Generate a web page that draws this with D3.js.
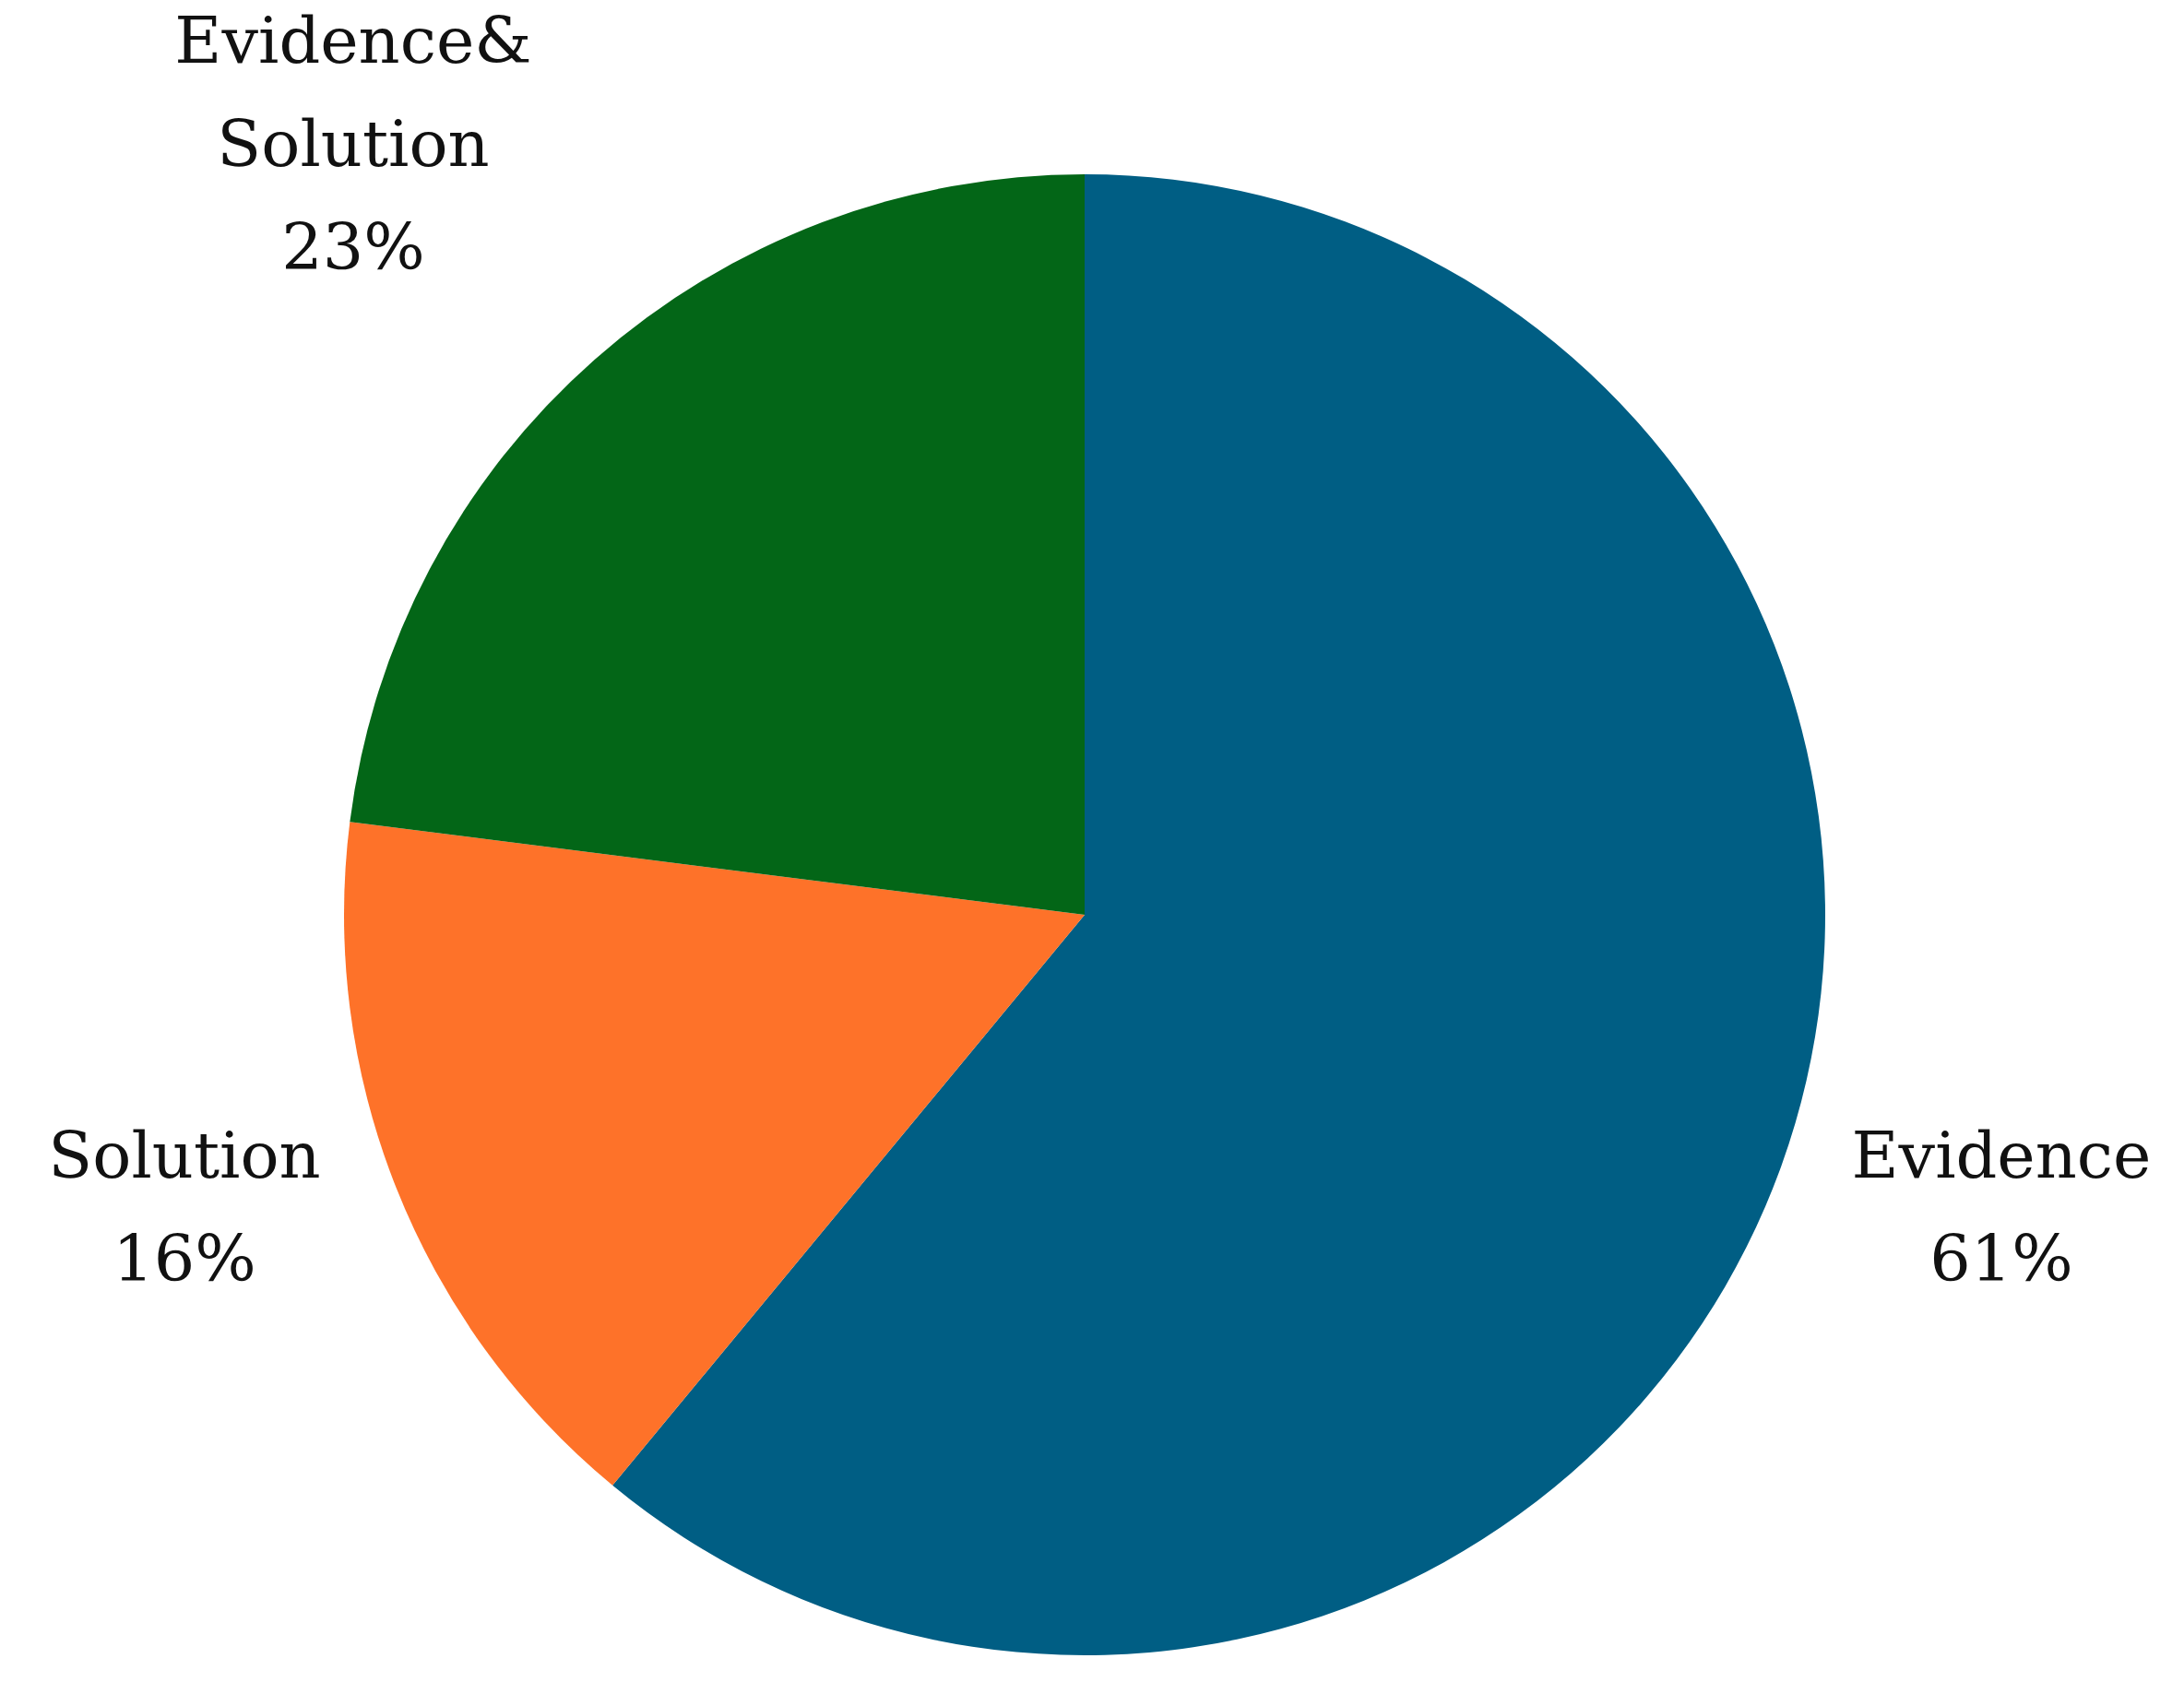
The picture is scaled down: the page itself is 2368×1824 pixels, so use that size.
<!DOCTYPE html>
<html lang="en"><head>
<meta charset="utf-8">
<title>Pie</title>
<script src="https://cdn.jsdelivr.net/npm/d3@7"></script>
<style>body{margin:0;background:#fff}</style>
</head>
<body>
<script>
var width = 2368, height = 1824;
var categories = ["Evidence", "Solution", "Evidence& Solution"];
var values = [61, 16, 23];
var colors = ["#005E84", "#FE7229", "#036617"];
// label lines per slice
var labelLines = [["Evidence", "61%"], ["Solution", "16%"], ["Evidence&", "Solution", "23%"]];
var labelPos = [[2170, 1277], [200, 1277], [383, 68]];

var cx = 1176, cy = 992, r = 803;
var svg = d3.select("body").append("svg").attr("width", width).attr("height", height);
var pie = d3.pie().sort(null)(values);
var arc = d3.arc().innerRadius(0).outerRadius(r);
var g = svg.append("g").attr("transform", "translate(" + cx + "," + cy + ")");
g.selectAll("path").data(pie).enter().append("path")
  .attr("d", arc).attr("fill", (d, i) => colors[i]);

labelLines.forEach(function(lines, i) {
  var t = svg.append("text").attr("text-anchor", "middle")
    .attr("font-family", "'DejaVu Serif', 'Liberation Serif', serif")
    .attr("font-size", 70).attr("fill", "#111");
  lines.forEach(function(l, j) {
    t.append("tspan").attr("x", labelPos[i][0]).attr("y", labelPos[i][1] + j * 112).text(l);
  });
});
</script>
</body>
</html>
